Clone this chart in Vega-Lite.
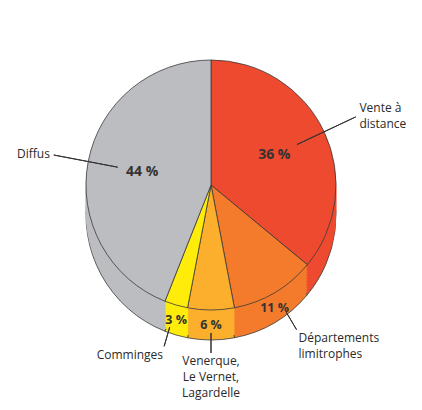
{
  "$schema": "https://vega.github.io/schema/vega-lite/v6.json",
  "width": 422,
  "height": 370,
  "autosize": {"type": "none"},
  "padding": {"top": 0, "left": 0, "right": 0, "bottom": 40},
  "background": "white",
  "config": {"view": {"stroke": null}, "font": "Open Sans"},
  "data": {
    "values": [
      {"lieu": "Vente à distance", "label": "Vente à\ndistance", "share": 36, "order": 1},
      {"lieu": "Départements limitrophes", "label": "Départements\nlimitrophes", "share": 11, "order": 2},
      {"lieu": "Venerque, Le Vernet, Lagardelle", "label": "Venerque,\nLe Vernet,\nLagardelle", "share": 6, "order": 3},
      {"lieu": "Comminges", "label": "Comminges", "share": 3, "order": 4},
      {"lieu": "Diffus", "label": "Diffus", "share": 44, "order": 5}
    ]
  },
  "transform": [
    {"window": [{"op": "sum", "field": "share", "as": "cum"}], "sort": [{"field": "order"}], "frame": [null, 0]},
    {"calculate": "datum.cum - datum.share / 2", "as": "mid"},
    {"calculate": "datum.share + ' %'", "as": "pct"}
  ],
  "layer": [
    {
      "encoding": {
        "theta": {"field": "share", "type": "quantitative", "stack": true, "scale": {"domain": [0, 100]}},
        "order": {"field": "order", "type": "quantitative"},
        "color": {
          "field": "lieu", "type": "nominal", "legend": null,
          "scale": {
            "domain": ["Vente à distance", "Départements limitrophes", "Venerque, Le Vernet, Lagardelle", "Comminges", "Diffus"],
            "range": ["#EE4A2F", "#F37B2B", "#FBAF2D", "#FFEC0B", "#BCBDC0"]
          }
        }
      },
      "layer": [
        {"mark": {"type": "arc", "radius": 125, "yOffset": 30, "stroke": "#3a3a3a", "strokeWidth": 0.8}},
        {"mark": {"type": "arc", "radius": 125, "yOffset": 27, "strokeWidth": 0.6}, "encoding": {"stroke": {"field": "lieu", "type": "nominal", "legend": null, "scale": {"domain": ["Vente à distance", "Départements limitrophes", "Venerque, Le Vernet, Lagardelle", "Comminges", "Diffus"], "range": ["#EE4A2F", "#F37B2B", "#FBAF2D", "#FFEC0B", "#BCBDC0"]}}}},
        {"mark": {"type": "arc", "radius": 125, "yOffset": 24, "strokeWidth": 0.6}, "encoding": {"stroke": {"field": "lieu", "type": "nominal", "legend": null}}},
        {"mark": {"type": "arc", "radius": 125, "yOffset": 21, "strokeWidth": 0.6}, "encoding": {"stroke": {"field": "lieu", "type": "nominal", "legend": null}}},
        {"mark": {"type": "arc", "radius": 125, "yOffset": 18, "strokeWidth": 0.6}, "encoding": {"stroke": {"field": "lieu", "type": "nominal", "legend": null}}},
        {"mark": {"type": "arc", "radius": 125, "yOffset": 15, "strokeWidth": 0.6}, "encoding": {"stroke": {"field": "lieu", "type": "nominal", "legend": null}}},
        {"mark": {"type": "arc", "radius": 125, "yOffset": 12, "strokeWidth": 0.6}, "encoding": {"stroke": {"field": "lieu", "type": "nominal", "legend": null}}},
        {"mark": {"type": "arc", "radius": 125, "yOffset": 9, "strokeWidth": 0.6}, "encoding": {"stroke": {"field": "lieu", "type": "nominal", "legend": null}}},
        {"mark": {"type": "arc", "radius": 125, "yOffset": 6, "strokeWidth": 0.6}, "encoding": {"stroke": {"field": "lieu", "type": "nominal", "legend": null}}},
        {"mark": {"type": "arc", "radius": 125, "yOffset": 3, "strokeWidth": 0.6}, "encoding": {"stroke": {"field": "lieu", "type": "nominal", "legend": null}}},
        {"mark": {"type": "arc", "radius": 125, "yOffset": 0, "stroke": "#3a3a3a", "strokeWidth": 0.8}}
      ]
    },
    {
      "transform": [{"filter": "datum.share >= 20"}],
      "mark": {"type": "text", "radius": 70, "fontSize": 14, "fontWeight": "bold", "color": "#333333"},
      "encoding": {
        "theta": {"field": "mid", "type": "quantitative", "stack": null},
        "text": {"field": "pct", "type": "nominal"}
      }
    },
    {
      "transform": [{"filter": "datum.share < 20"}],
      "mark": {"type": "text", "radius": 125, "yOffset": 15, "fontSize": 12.5, "fontWeight": "bold", "color": "#333333"},
      "encoding": {
        "theta": {"field": "mid", "type": "quantitative", "stack": null},
        "text": {"field": "pct", "type": "nominal"}
      }
    },
    {
      "transform": [{"filter": "datum.mid < 25 || datum.mid > 75"}],
      "mark": {"type": "arc", "radius": 160, "radius2": 95, "fill": null, "stroke": "#333333", "strokeWidth": 1},
      "encoding": {
        "theta": {"field": "mid", "type": "quantitative", "stack": null},
        "theta2": {"field": "mid"}
      }
    },
    {
      "transform": [{"filter": "datum.mid >= 25 && datum.mid <= 75"}],
      "mark": {"type": "arc", "radius": 168, "radius2": 148, "fill": null, "stroke": "#333333", "strokeWidth": 1},
      "encoding": {
        "theta": {"field": "mid", "type": "quantitative", "stack": null},
        "theta2": {"field": "mid"}
      }
    },
    {
      "transform": [{"filter": "datum.mid < 25"}],
      "mark": {"type": "text", "radius": 164, "align": "left", "baseline": "bottom", "fontSize": 12, "lineHeight": 16, "lineBreak": "\n", "color": "#2a2a2a"},
      "encoding": {
        "theta": {"field": "mid", "type": "quantitative", "stack": null},
        "text": {"field": "label", "type": "nominal"}
      }
    },
    {
      "transform": [{"filter": "datum.mid >= 25 && datum.mid < 48"}],
      "mark": {"type": "text", "radius": 172, "align": "left", "baseline": "top", "fontSize": 12, "lineHeight": 16, "lineBreak": "\n", "color": "#2a2a2a"},
      "encoding": {
        "theta": {"field": "mid", "type": "quantitative", "stack": null},
        "text": {"field": "label", "type": "nominal"}
      }
    },
    {
      "transform": [{"filter": "datum.mid >= 48 && datum.mid < 52"}],
      "mark": {"type": "text", "radius": 171, "align": "center", "baseline": "top", "fontSize": 12, "lineHeight": 16, "lineBreak": "\n", "color": "#2a2a2a"},
      "encoding": {
        "theta": {"field": "mid", "type": "quantitative", "stack": null},
        "text": {"field": "label", "type": "nominal"}
      }
    },
    {
      "transform": [{"filter": "datum.mid >= 52 && datum.mid <= 75"}],
      "mark": {"type": "text", "radius": 172, "align": "right", "baseline": "top", "fontSize": 12, "lineHeight": 16, "lineBreak": "\n", "color": "#2a2a2a"},
      "encoding": {
        "theta": {"field": "mid", "type": "quantitative", "stack": null},
        "text": {"field": "label", "type": "nominal"}
      }
    },
    {
      "transform": [{"filter": "datum.mid > 75"}],
      "mark": {"type": "text", "radius": 164, "align": "right", "baseline": "middle", "fontSize": 12, "lineHeight": 16, "lineBreak": "\n", "color": "#2a2a2a"},
      "encoding": {
        "theta": {"field": "mid", "type": "quantitative", "stack": null},
        "text": {"field": "label", "type": "nominal"}
      }
    }
  ]
}
